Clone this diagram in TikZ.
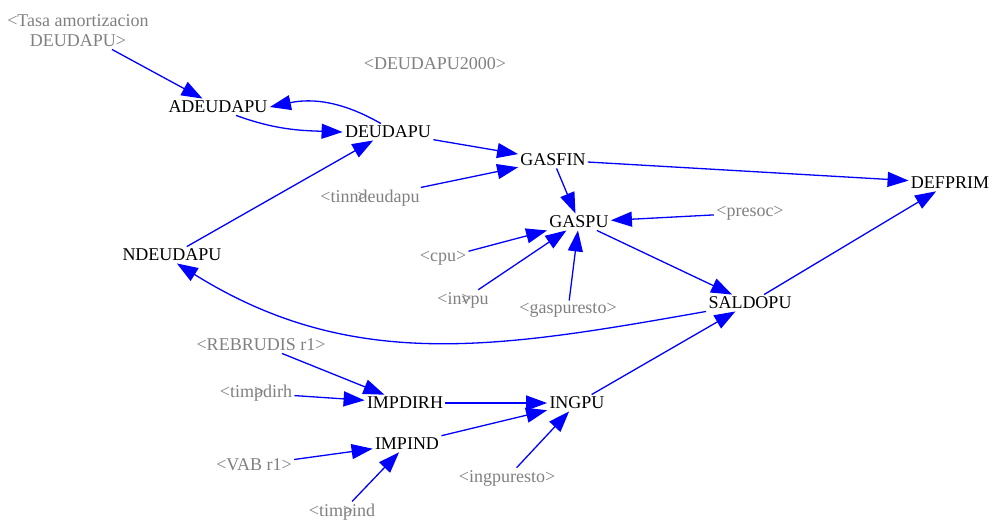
\documentclass[tikz,border=0pt]{standalone}
\usepackage{fontspec}
\setmainfont{Liberation Serif}
\usetikzlibrary{arrows.meta}
\definecolor{shadowgray}{RGB}{128,128,128}
\tikzset{
    var/.style = {font=\fontsize{9}{10}\selectfont, inner sep=1pt},
    shadowvar/.style = {var, text=shadowgray},
    link/.style = {draw=blue, line width=0.65pt,
        -{Triangle[length=10.5pt,width=7.5pt]}}
}
\begin{document}
\begin{tikzpicture}[x=0.5pt, y=0.5pt]
    \useasboundingbox (0,0) rectangle (991,-520);
    % stocks and auxiliaries
    \node[var] (adeudapu) at (218,-107) {ADEUDAPU};
    \node[var] (deudapu)  at (388,-132) {DEUDAPU};
    \node[var] (gasfin)   at (553,-160) {GASFIN};
    \node[var] (defprim)  at (950,-183) {DEFPRIM};
    \node[var] (gaspu)    at (579,-222) {GASPU};
    \node[var] (ndeudapu) at (172,-255) {NDEUDAPU};
    \node[var] (saldopu)  at (750,-303) {SALDOPU};
    \node[var] (impdirh)  at (405,-403) {IMPDIRH};
    \node[var] (ingpu)    at (577,-403) {INGPU};
    \node[var] (impind)   at (407,-444) {IMPIND};
    % shadow variables
    \node[shadowvar, align=center] (tasa) at (78,-31)
        {<Tasa amortizacion\\DEUDAPU>};
    \node[shadowvar] (deudapu2000) at (435,-64) {<DEUDAPU2000>};
    \node[shadowvar] (tinndeudapu) at (370,-198) {<tinnd\llap{>}eudapu};
    \node[shadowvar] (presoc)      at (750,-213) {<presoc>};
    \node[shadowvar] (cpu)         at (443,-258) {<cpu>};
    \node[shadowvar] (invpu)       at (463,-300) {<in\rlap{>}vpu};
    \node[shadowvar] (gaspuresto)  at (568,-310) {<gaspuresto>};
    \node[shadowvar] (rebrudis)    at (261,-345) {<REBRUDIS r1>};
    \node[shadowvar] (timpdirh)    at (256,-393) {<tim\rlap{>}pdirh};
    \node[shadowvar] (vab)         at (254,-465) {<VAB r1>};
    \node[shadowvar] (ingpuresto)  at (507,-478) {<ingpuresto>};
    \node[shadowvar] (timpind)     at (342,-512) {<tim\rlap{>}pind};
    % links
    \draw[link] (tasa) -- (adeudapu);
    \draw[link] (deudapu.130) to[out=150, in=12] (adeudapu.east);
    \draw[link] (adeudapu.-25) to[out=-20, in=178] (deudapu.west);
    \draw[link] (ndeudapu) -- (deudapu);
    \draw[link] (deudapu) -- (gasfin);
    \draw[link] (tinndeudapu) -- (gasfin);
    \draw[link] (gasfin) -- (gaspu);
    \draw[link] (gasfin) -- (defprim);
    \draw[link] (presoc) -- (gaspu);
    \draw[link] (cpu) -- (gaspu);
    \draw[link] (invpu) -- (gaspu);
    \draw[link] (gaspuresto) -- (gaspu);
    \draw[link] (gaspu) -- (saldopu);
    \draw[link] (saldopu) -- (defprim);
    \draw[link] (saldopu.south west) to[out=190, in=-32] (ndeudapu.-60);
    \draw[link] (rebrudis) -- (impdirh);
    \draw[link] (timpdirh) -- (impdirh);
    \draw[link] (impdirh) -- (ingpu);
    \draw[link] (impind) -- (ingpu);
    \draw[link] (ingpuresto) -- (ingpu);
    \draw[link] (ingpu) -- (saldopu);
    \draw[link] (vab) -- (impind);
    \draw[link] (timpind) -- (impind);
\end{tikzpicture}
\end{document}
